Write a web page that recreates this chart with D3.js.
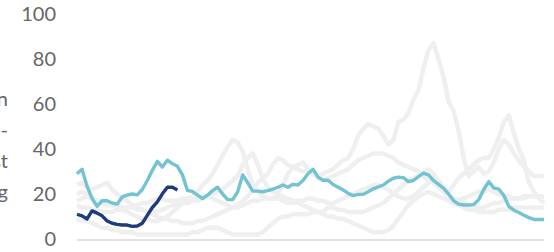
<!DOCTYPE html>
<html>
<head>
<meta charset="utf-8">
<script src="https://cdn.jsdelivr.net/npm/d3@7"></script>
<style>
  html, body { margin: 0; padding: 0; background: #fff; }
  svg { display: block; font-family: Lato, "Open Sans", sans-serif; }
</style>
</head>
<body>
<svg width="554" height="252"></svg>
<script>
var yTicks = [0, 20, 40, 60, 80, 100];

var titleLines = ["Search interest in", "each phone model, re-", "lative to its highest", "after launch, ranking"];

// background series (grey)
var grey1 = [20,21,20,18,17,17,16,15,15,14, 14,15,15,16,16,17,18,18,17,17,
  17,18,18,19,21,24,26,29,33,37, 41,44,43,39,31,24,21,19,18,18,
  20,24,29,32,31,30,31,29,28,29, 30,31,33,35,36,40,46,49,51,50,
  49,46,42,44,52,53,56,62,66,76, 84,87,80,72,61,57,48,36,28,30,
  32,29,30,34,40,44,42,38,35,32, 30,28,28,28];
var grey2 = [24,25,23,22,23,24,25,22,20,18, 17,15,14,13,12,11,10,9,9,8,
  8,7,7,7,8,8,9,10,11,12, 13,14,15,17,19,22,25,27,29,33,
  36,35,33,32,33,34,31,29,27,26, 27,28,29,30,31,33,35,36,37,38,
  38,38,37,36,34,33,32,31,30,28, 26,25,23,21,19,18,17,16,15,15,
  14,14,15,16,16,17,18,18,18,19, 19,19,19,19];
var grey3 = [15,14,14,13,13,12,12,12,13,13, 14,14,13,13,12,12,12,13,14,15,
  15,16,16,17,17,18,19,20,21,22, 24,26,28,33,36,38,33,27,23,21,
  20,19,18,17,16,15,14,13,12,12, 14,14,13,13,12,12,12,12,13,14,
  15,16,18,20,22,24,26,27,28,29, 31,29,26,23,21,24,27,29,31,33,
  35,36,36,40,45,52,55,47,40,35, 25,21,18,16];
var grey4 = [9,8,8,7,6,5,5,4,4,3, 3,3,2,2,2,2,2,2,2,2,
  2,2,2,3,3,4,5,5,5,4, 3,2,2,2,2,2,2,3,5,7,
  9,10,10,11,11,11,11,12,12,11, 10,10,9,9,8,7,6,5,4,3,
  3,3,4,6,9,12,15,17,19,20, 21,20,19,18,17,16,15,14,13,13,
  12,12,12,12,13,13,13,14,14,14, 14,14,14,14];
var grey5 = [17,18,19,18,17,16,15,15,14,13, 12,11,10,9,9,8,8,9,10,12,
  14,16,17,18,18,19,19,18,17,16, 15,14,14,15,16,17,17,18,18,18,
  18,17,16,16,17,17,18,18,17,17, 16,16,17,18,19,20,21,22,23,24,
  24,23,22,20,19,18,18,19,21,23, 25,27,24,21,19,18,17,18,19,20,
  21,21,22,21,20,19,19,18,18,18, 19,19,19,19];

// highlighted series
var lightBlue = [29,31,23.5,18,14.5,17,17,16,15.5,18.7, 19.5,20,19.6,22,26,30.5,34.5,32,35,33.5,
  32.3,28.5,21.6,21.1,19.5,18,19.5,21.5,23,20, 17.5,17.5,21,28.5,25,21.3,21.3,21,21.5,22.2,
  23,24,23,24.3,24,26,29,31,27.5,26.1, 26.1,24.2,23,21.8,20.3,19.3,19.8,19.9,21,22.3,
  23.2,24,25.7,27,27.5,27.3,25.5,26,27.7,29.3, 28.5,26,24.3,22.5,20,17,15.5,15.1,15.1,15.3,
  17.5,22,25.5,22.7,22.2,19.3,14.5,12.8,11.8,10.6, 9.5,8.7,8.7,8.7];
var darkBlue = [11,10.3,8.9,12.5,11.5,10.3,8,7,6.5,6.2, 6.2,5.6,5.8,7,10.5,14,16.5,20.1,23,23, 21.8];

var greySeries = [grey1, grey2, grey3, grey4, grey5];

var svg = d3.select("svg");

var x = d3.scaleLinear().domain([0, lightBlue.length - 1]).range([77, 544]);
var y = d3.scaleLinear().domain([0, 100]).range([239, 14]);

var line = d3.line()
  .x(function(d, i) { return x(i); })
  .y(function(d) { return y(d); });

// left title, mostly clipped by the frame
svg.append("g")
  .selectAll("text")
  .data(titleLines)
  .join("text")
  .attr("x", 8)
  .attr("y", function(d, i) { return 106 + i * 31; })
  .attr("text-anchor", "end")
  .attr("font-size", 20)
  .attr("fill", "#666")
  .text(function(d) { return d; });

// y axis labels
var yAxis = svg.append("g")
  .attr("transform", "translate(56,0)")
  .call(d3.axisLeft(y).tickValues(yTicks).tickSize(0).tickPadding(0));
yAxis.select(".domain").remove();
yAxis.selectAll("text")
  .attr("font-family", "Lato, 'Open Sans', sans-serif")
  .attr("font-size", 20)
  .attr("fill", "#666");

// baseline
svg.append("line")
  .attr("x1", x(0)).attr("x2", x(lightBlue.length - 1))
  .attr("y1", 240).attr("y2", 240)
  .attr("stroke", "#e2e2e2")
  .attr("stroke-width", 2);

svg.append("g")
  .selectAll("path")
  .data(greySeries)
  .join("path")
  .attr("d", line)
  .attr("fill", "none")
  .attr("stroke", "#efefef")
  .attr("stroke-width", 4.5)
  .attr("stroke-linejoin", "round");

svg.append("path")
  .datum(lightBlue)
  .attr("d", line)
  .attr("fill", "none")
  .attr("stroke", "#74c3d3")
  .attr("stroke-width", 3.4)
  .attr("stroke-linejoin", "round");

svg.append("path")
  .datum(darkBlue)
  .attr("d", line)
  .attr("fill", "none")
  .attr("stroke", "#1e3c7c")
  .attr("stroke-width", 3.4)
  .attr("stroke-linejoin", "round");
</script>
</body>
</html>
